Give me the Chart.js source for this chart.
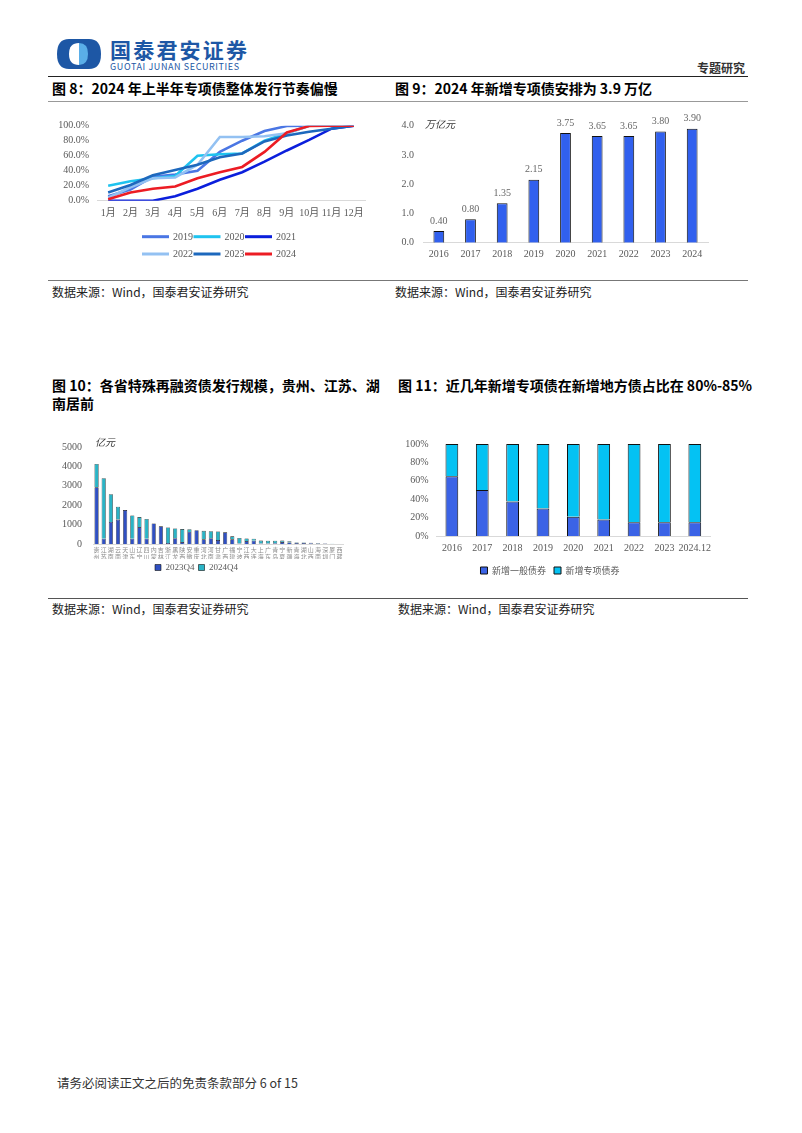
<!DOCTYPE html>
<html lang="zh-CN">
<head>
<meta charset="utf-8">
<title>专题研究</title>
<script src="https://cdn.jsdelivr.net/npm/chart.js@4.4.1/dist/chart.umd.min.js"></script>
<style>
    html, body { margin: 0; padding: 0; background: #fff; }
    body {
        width: 802px; height: 1133px; position: relative; overflow: hidden;
        font-family: "Noto Sans CJK SC", "Noto Sans", sans-serif; color: #000;
    }
    .abs { position: absolute; }
    .hline { position: absolute; left: 48px; width: 700px; }
    .title { position: absolute; font-size: 14px; font-weight: 700; line-height: 18px; white-space: nowrap; }
    .source { position: absolute; font-size: 12px; line-height: 12px; color: #222; white-space: nowrap; }
    .unit { position: absolute; font-size: 10px; line-height: 10px; color: #333; font-style: italic; }
    canvas { position: absolute; }
</style>
</head>
<body>

<!-- 页眉 -->
<svg class="abs" style="left:56px;top:38px" width="46" height="32" viewBox="0 0 46 32">
    <path d="M13 1 H33 Q45 1 45 16 Q45 31 33 31 H13 Q1 31 1 16 Q1 1 13 1 Z" fill="#1d57a5"/>
    <path d="M23 5 Q13 5 13 16 Q13 27 23 27 Z" fill="#ffffff"/>
    <path d="M23 5 Q32 5 32 16 Q32 27 23 27 Z" fill="#5aaee8"/>
</svg>
<div class="abs" style="left:110px;top:38px;font-size:21px;line-height:22px;font-weight:700;color:#1d57a5;letter-spacing:2.2px;">国泰君安证券</div>
<div class="abs" style="left:110px;top:62px;font-size:9px;line-height:9px;color:#1d57a5;letter-spacing:0.6px;">GUOTAI JUNAN SECURITIES</div>
<div class="abs" style="left:697px;top:61px;font-size:12px;line-height:13px;font-weight:700;color:#333;">专题研究</div>
<div class="hline" style="top:76px;border-top:1.5px solid #222;"></div>

<!-- 图 8 / 图 9 -->
<div class="title" style="left:52px;top:79px;">图 8：2024 年上半年专项债整体发行节奏偏慢</div>
<div class="title" style="left:395px;top:79px;">图 9：2024 年新增专项债安排为 3.9 万亿</div>
<div class="hline" style="top:101px;border-top:1px solid #999;"></div>

<canvas id="chart-pace" width="330" height="160" style="left:50px;top:110px;"></canvas>
<canvas id="chart-quota" width="330" height="160" style="left:390px;top:110px;"></canvas>
<div class="unit" style="left:425px;top:119px;">万亿元</div>

<div class="hline" style="top:280px;border-top:1px solid #777;"></div>
<div class="source" style="left:52px;top:286px;">数据来源：Wind，国泰君安证券研究</div>
<div class="source" style="left:395px;top:286px;">数据来源：Wind，国泰君安证券研究</div>

<!-- 图 10 / 图 11 -->
<div class="title" style="left:52px;top:376px;">图 10：各省特殊再融资债发行规模，贵州、江苏、湖<br>南居前</div>
<div class="title" style="left:398px;top:376px;">图 11：近几年新增专项债在新增地方债占比在 80%-85%</div>

<canvas id="chart-refi" width="310" height="152" style="left:50px;top:430px;"></canvas>
<div class="unit" style="left:95px;top:437px;">亿元</div>
<canvas id="chart-share" width="330" height="155" style="left:390px;top:430px;"></canvas>

<div class="hline" style="top:598px;border-top:1px solid #555;"></div>
<div class="source" style="left:52px;top:603px;">数据来源：Wind，国泰君安证券研究</div>
<div class="source" style="left:398px;top:603px;">数据来源：Wind，国泰君安证券研究</div>

<div class="abs" style="left:57px;top:1076px;font-size:12.5px;line-height:14px;color:#333;">请务必阅读正文之后的免责条款部分 6 of 15</div>

<script>
// ---- 图 8：专项债累计发行进度 (%) ----
const monthLabels = ['1月', '2月', '3月', '4月', '5月', '6月', '7月', '8月', '9月', '10月', '11月', '12月'];
const paceYears = ['2019', '2020', '2021', '2022', '2023', '2024'];
const pace2019 = [6, 15, 32, 35, 40, 65, 80, 93, 99.5, 100, 100, 100];
const pace2020 = [20, 26, 30, 33, 60, 62, 63, 80, 90, 100, 100, 100];
const pace2021 = [0, 0, 0, 6, 16, 28, 38, 52, 67, 81, 96, 100];
const pace2022 = [4, 18, 30, 31, 48, 85, 85, 86, 90, 100, 100, 100];
const pace2023 = [11, 21, 34, 41, 48, 58, 63, 79, 87, 92, 96, 100];
const pace2024 = [2, 11, 16, 19, 30, 38, 45, 65, 91, 99.5, 100, 100];

// ---- 图 9：新增专项债额度（万亿元）----
const quotaYears = ['2016', '2017', '2018', '2019', '2020', '2021', '2022', '2023', '2024'];
const quotaValues = [0.40, 0.80, 1.35, 2.15, 3.75, 3.65, 3.65, 3.80, 3.90];

// ---- 图 10：各省特殊再融资债（亿元）----
const provinces = ['贵州', '江苏', '湖南', '云南', '天津', '山东', '辽宁', '四川', '内蒙古', '吉林',
    '浙江', '黑龙江', '陕西', '安徽', '重庆', '河北', '河南', '甘肃', '广西', '福建',
    '宁波', '江西', '大连', '上海', '广东', '青岛', '宁夏', '新疆', '青海', '湖北',
    '山西', '海南', '深圳', '厦门', '西藏'];
const refi2023Q4 = [2920, 270, 1140, 1260, 1750, 270, 870, 270, 1060, 910,
    50, 300, 100, 620, 710, 240, 300, 200, 600, 240,
    30, 150, 170, 30, 20, 40, 100, 80, 60, 50,
    40, 30, 20, 5, 0];
const refi2024Q4 = [1210, 3120, 1430, 660, 0, 1200, 520, 1020, 0, 0,
    800, 500, 670, 140, 0, 440, 360, 450, 0, 155,
    285, 135, 100, 145, 150, 130, 75, 60, 35, 30,
    20, 20, 10, 5, 5];

// ---- 图 11：新增地方债结构 (%) ----
const shareYears = ['2016', '2017', '2018', '2019', '2020', '2021', '2022', '2023', '2024.12'];
const shareGeneral = [65, 50, 37.5, 30, 21, 18, 15, 15, 15];
const shareSpecial = [35, 50, 62.5, 70, 79, 82, 85, 85, 85];

const serif = "'Liberation Serif', 'Times New Roman', 'Noto Sans CJK SC', serif";
const cjk = "'Noto Sans CJK SC', sans-serif";
const tickGray = '#595959';
const axisGray = '#d9d9d9';

Chart.defaults.animation = false;
Chart.defaults.responsive = false;
Chart.defaults.plugins.tooltip.enabled = false;

// 图 8 图例：两行，每行三项，线段样式
const paceLegend = {
    id: 'paceLegend',
    afterDraw(chart) {
        const ctx = chart.ctx;
        const left = 92, step = 51.5, rows = [126.7, 144];
        ctx.save();
        chart.data.datasets.forEach((ds, i) => {
            const x = left + (i % 3) * step;
            const y = rows[Math.floor(i / 3)];
            ctx.strokeStyle = ds.borderColor;
            ctx.lineWidth = 3;
            ctx.beginPath();
            ctx.moveTo(x, y);
            ctx.lineTo(x + 27, y);
            ctx.stroke();
            ctx.fillStyle = tickGray;
            ctx.font = '10px ' + serif;
            ctx.textBaseline = 'middle';
            ctx.fillText(ds.label, x + 31, y + 0.5);
        });
        ctx.restore();
    }
};

const paceColors = ['#4a76e4', '#1fc3ef', '#0b1fdc', '#93c1f2', '#1d68bd', '#ec1c24'];
const paceSeries = [pace2019, pace2020, pace2021, pace2022, pace2023, pace2024];

new Chart(document.getElementById('chart-pace'), {
    type: 'line',
    data: {
        labels: monthLabels,
        datasets: paceYears.map((y, i) => ({
            label: y,
            data: paceSeries[i],
            borderColor: paceColors[i],
            backgroundColor: paceColors[i],
            borderWidth: 2.6,
            pointRadius: 0,
            tension: 0,
            order: paceYears.length - i
        }))
    },
    options: {
        layout: { padding: { top: 15.7, right: 15, bottom: 44.3, left: 0 } },
        plugins: { legend: { display: false } },
        scales: {
            x: {
                offset: true,
                grid: { display: false, drawTicks: false },
                border: { color: axisGray },
                ticks: { color: tickGray, font: { family: serif, size: 10 }, padding: 7, maxRotation: 0, autoSkip: false },
                afterFit: (s) => { s.height = 25; }
            },
            y: {
                min: 0, max: 100,
                grid: { display: false, drawTicks: false },
                border: { display: false },
                ticks: { stepSize: 20, color: tickGray, font: { family: serif, size: 10 }, padding: 8,
                    callback: (v) => v.toFixed(1) + '%' },
                afterFit: (s) => { s.width = 47; }
            }
        }
    },
    plugins: [paceLegend]
});

// 图 9 柱顶数值
const barValueLabels = {
    id: 'barValueLabels',
    afterDatasetsDraw(chart) {
        const ctx = chart.ctx;
        const meta = chart.getDatasetMeta(0);
        ctx.save();
        ctx.fillStyle = '#666';
        ctx.font = '10px ' + serif;
        ctx.textAlign = 'center';
        ctx.textBaseline = 'bottom';
        meta.data.forEach((bar, i) => {
            ctx.fillText(quotaValues[i].toFixed(2), bar.x, bar.y - 5);
        });
        ctx.restore();
    }
};

new Chart(document.getElementById('chart-quota'), {
    type: 'bar',
    data: {
        labels: quotaYears,
        datasets: [{
            label: '新增专项债额度',
            data: quotaValues,
            backgroundColor: '#3160ee',
            borderColor: '#111',
            borderWidth: 1,
            categoryPercentage: 1,
            barPercentage: 0.34
        }]
    },
    options: {
        layout: { padding: { top: 15.7, right: 12, bottom: 5.3, left: 0 } },
        plugins: { legend: { display: false } },
        scales: {
            x: {
                grid: { display: false, drawTicks: false },
                border: { color: axisGray },
                ticks: { color: tickGray, font: { family: serif, size: 10 }, padding: 6, maxRotation: 0 },
                afterFit: (s) => { s.height = 22; }
            },
            y: {
                min: 0, max: 4,
                grid: { display: false, drawTicks: false },
                border: { display: false },
                ticks: { stepSize: 0.5, color: tickGray, font: { family: serif, size: 10 }, padding: 9,
                    callback: (v) => v.toFixed(1) },
                afterFit: (s) => { s.width = 33; }
            }
        }
    },
    plugins: [barValueLabels]
});

// 图 10
new Chart(document.getElementById('chart-refi'), {
    type: 'bar',
    data: {
        labels: provinces.map(p => p.split('')),
        datasets: [
            { label: '2023Q4', data: refi2023Q4, backgroundColor: '#3050c2', borderColor: '#111', borderWidth: 0.6 },
            { label: '2024Q4', data: refi2024Q4, backgroundColor: '#2ab4c6', borderColor: '#111', borderWidth: 0.6 }
        ]
    },
    options: {
        datasets: { bar: { categoryPercentage: 1, barPercentage: 0.58 } },
        layout: { padding: { top: 14.3, right: 17, bottom: 0, left: 0 } },
        plugins: {
            legend: {
                position: 'bottom',
                labels: { boxWidth: 6, boxHeight: 6, padding: 4, color: tickGray, font: { family: serif, size: 9 } }
            }
        },
        scales: {
            x: {
                stacked: true,
                grid: { display: false, drawTicks: false },
                border: { color: axisGray },
                ticks: { color: '#8c8c8c', font: { family: cjk, size: 6, lineHeight: 1.05 }, padding: 3,
                    maxRotation: 0, minRotation: 0, autoSkip: false },
                afterFit: (s) => { s.height = 15; }
            },
            y: {
                stacked: true,
                min: 0, max: 5000,
                grid: { display: false, drawTicks: false },
                border: { display: false },
                ticks: { stepSize: 1000, color: tickGray, font: { family: serif, size: 10 }, padding: 11,
                    callback: (v) => String(v) },
                afterFit: (s) => { s.width = 43; }
            }
        }
    }
});

// 图 11
new Chart(document.getElementById('chart-share'), {
    type: 'bar',
    data: {
        labels: shareYears,
        datasets: [
            { label: '新增一般债券', data: shareGeneral, backgroundColor: '#3b63e6', borderColor: '#111', borderWidth: 1 },
            { label: '新增专项债券', data: shareSpecial, backgroundColor: '#04c2f3', borderColor: '#111', borderWidth: 1 }
        ]
    },
    options: {
        datasets: { bar: { categoryPercentage: 1, barPercentage: 0.42 } },
        layout: { padding: { top: 10.7, right: 10, bottom: 0, left: 0 } },
        plugins: {
            legend: {
                position: 'bottom',
                labels: { boxWidth: 7, boxHeight: 7, padding: 8, color: tickGray, font: { family: cjk, size: 9 } }
            }
        },
        scales: {
            x: {
                stacked: true,
                grid: { display: false, drawTicks: false },
                border: { color: axisGray },
                ticks: { color: tickGray, font: { family: serif, size: 10 }, padding: 6, maxRotation: 0, autoSkip: false },
                afterFit: (s) => { s.height = 22; }
            },
            y: {
                stacked: true,
                min: 0, max: 100,
                grid: { display: false, drawTicks: false },
                border: { display: false },
                ticks: { stepSize: 20, color: tickGray, font: { family: serif, size: 10 }, padding: 8,
                    callback: (v) => v + '%' },
                afterFit: (s) => { s.width = 46.7; }
            }
        }
    }
});
</script>
</body>
</html>
